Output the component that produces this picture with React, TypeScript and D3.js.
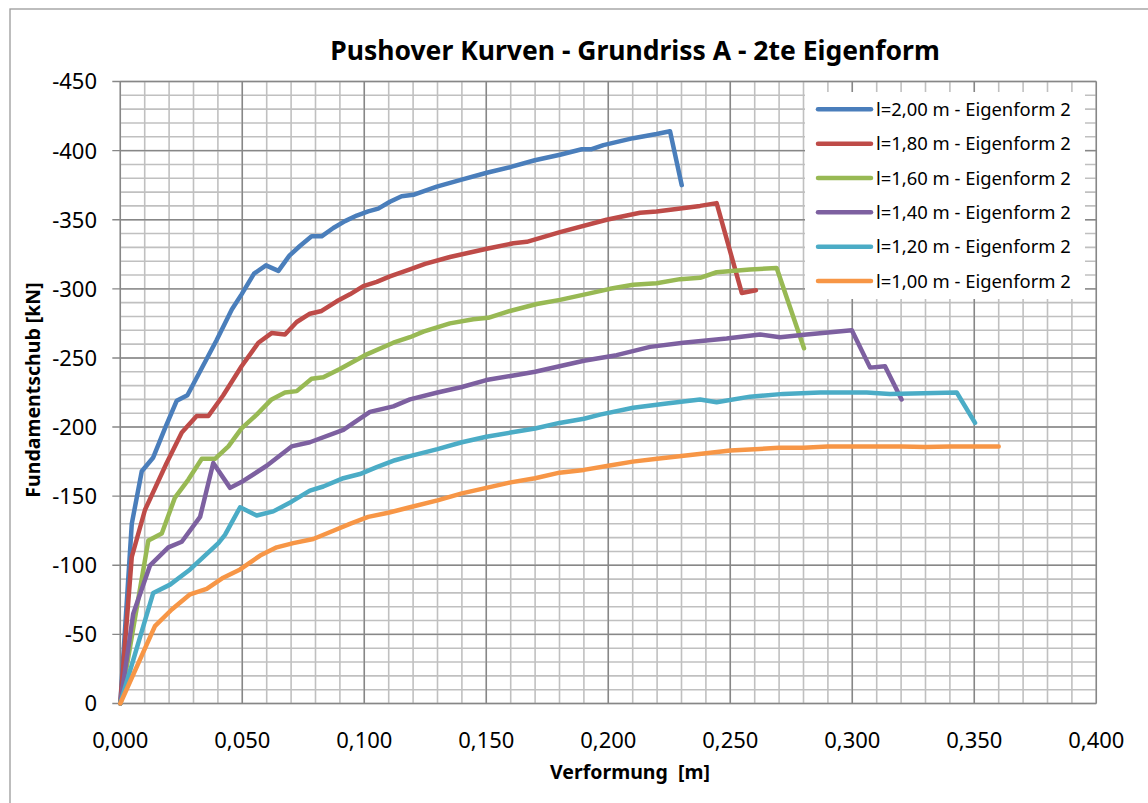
import React from "react";
import * as d3 from "d3";

// Pushover curves: base shear [kN] (negative) over deformation [m]
type Pt = [number, number];

const seriesLabels = [
  "l=2,00 m - Eigenform 2",
  "l=1,80 m - Eigenform 2",
  "l=1,60 m - Eigenform 2",
  "l=1,40 m - Eigenform 2",
  "l=1,20 m - Eigenform 2",
  "l=1,00 m - Eigenform 2",
];

const seriesColors = ["#4a7ebb", "#be4b48", "#98b954", "#7d60a0", "#4bacc6", "#f79646"];

const curveL200: Pt[] = [
  [0, 0], [0.0047, -130], [0.0088, -168], [0.0135, -178], [0.0183, -199], [0.0231, -219],
  [0.0275, -223], [0.0395, -263], [0.0457, -285], [0.0497, -296], [0.0548, -311], [0.0597, -317],
  [0.0648, -313], [0.0693, -324], [0.0736, -331], [0.0784, -338], [0.0825, -338], [0.0873, -344],
  [0.0921, -349], [0.0969, -353], [0.1016, -356], [0.1057, -358], [0.1105, -363], [0.1153, -367],
  [0.1201, -368], [0.1297, -374], [0.1399, -379], [0.1502, -384], [0.1597, -388], [0.1699, -393],
  [0.1802, -397], [0.1891, -401], [0.1932, -401], [0.198, -404], [0.2102, -409], [0.2198, -412],
  [0.2253, -414], [0.2301, -375],
];

const curveL180: Pt[] = [
  [0, 0], [0.0047, -106], [0.0101, -140], [0.019, -174], [0.0252, -196], [0.0313, -208],
  [0.0361, -208], [0.0422, -223], [0.0497, -244], [0.0566, -261], [0.062, -268], [0.0675, -267],
  [0.0723, -276], [0.0777, -282], [0.0825, -284], [0.0887, -291], [0.0941, -296], [0.0996, -302],
  [0.1051, -305], [0.1105, -309], [0.1187, -314], [0.1249, -318], [0.1351, -323], [0.1502, -329],
  [0.1611, -333], [0.1666, -334], [0.1802, -341], [0.1993, -350], [0.213, -355], [0.2198, -356],
  [0.2376, -360], [0.2444, -362], [0.2547, -297], [0.2605, -299],
];

const curveL160: Pt[] = [
  [0, 0], [0.0115, -118], [0.017, -123], [0.0224, -149], [0.0279, -162], [0.0334, -177],
  [0.0388, -177], [0.0443, -186], [0.0497, -199], [0.0559, -209], [0.062, -220], [0.0675, -225],
  [0.0723, -226], [0.0784, -235], [0.0832, -236], [0.09, -242], [0.1003, -252], [0.1119, -261],
  [0.1187, -265], [0.1242, -269], [0.1351, -275], [0.1447, -278], [0.1508, -279], [0.1597, -284],
  [0.1707, -289], [0.1802, -292], [0.1905, -296], [0.2007, -300], [0.2102, -303], [0.2198, -304],
  [0.2294, -307], [0.2376, -308], [0.2444, -312], [0.2581, -314], [0.269, -315], [0.2802, -257],
];

const curveL140: Pt[] = [
  [0, 0], [0.0053, -65], [0.0122, -100], [0.0197, -113], [0.0252, -117], [0.0327, -135],
  [0.0381, -174], [0.045, -156], [0.0504, -161], [0.06, -172], [0.0702, -186], [0.0777, -189],
  [0.0914, -198], [0.1023, -211], [0.1119, -215], [0.1187, -220], [0.13, -225], [0.14, -229],
  [0.15, -234], [0.16, -237], [0.17, -240], [0.18, -244], [0.19, -248], [0.1966, -250],
  [0.2034, -252], [0.2171, -258], [0.2307, -261], [0.2485, -264], [0.2622, -267], [0.2704, -265],
  [0.2813, -267], [0.2998, -270], [0.3073, -243], [0.3134, -244], [0.3202, -220],
];

const curveL120: Pt[] = [
  [0, 0], [0.0135, -80], [0.0204, -86], [0.0286, -97], [0.0402, -116], [0.0429, -122],
  [0.0491, -142], [0.0559, -136], [0.0627, -139], [0.0702, -146], [0.0777, -154], [0.0832, -157],
  [0.0914, -163], [0.0982, -166], [0.1051, -171], [0.1126, -176], [0.1187, -179], [0.13, -184],
  [0.14, -189], [0.15, -193], [0.16, -196], [0.17, -199], [0.18, -203], [0.19, -206],
  [0.1966, -209], [0.2102, -214], [0.2239, -217], [0.2376, -220], [0.2444, -218], [0.2581, -222],
  [0.2717, -224], [0.2868, -225], [0.3059, -225], [0.3154, -224], [0.3428, -225], [0.3503, -203],
];

const curveL100: Pt[] = [
  [0, 0], [0.0142, -56], [0.0211, -68], [0.0286, -79], [0.0354, -83], [0.0422, -91],
  [0.0491, -97], [0.0573, -107], [0.0641, -113], [0.0709, -116], [0.0791, -119], [0.0873, -125],
  [0.0941, -130], [0.1016, -135], [0.1098, -138], [0.1187, -142], [0.13, -147], [0.14, -152],
  [0.15, -156], [0.16, -160], [0.17, -163], [0.18, -167], [0.19, -169], [0.2, -172],
  [0.21, -175], [0.22, -177], [0.23, -179], [0.24, -181], [0.25, -183], [0.26, -184],
  [0.27, -185], [0.28, -185], [0.29, -186], [0.3, -186], [0.31, -186], [0.32, -186],
  [0.33, -185.5], [0.34, -186], [0.35, -186], [0.36, -186],
];

const allCurves = [curveL200, curveL180, curveL160, curveL140, curveL120, curveL100];

const xTicks = [0, 0.05, 0.1, 0.15, 0.2, 0.25, 0.3, 0.35, 0.4];
const yTicks = [0, -50, -100, -150, -200, -250, -300, -350, -400, -450];

const W = 1148;
const H = 803;
const plot = { left: 120.3, right: 1096.3, top: 81.5, bottom: 703.5 };
const FONT = "'Noto Sans', 'Open Sans', sans-serif";

export default function App() {
  const x = d3.scaleLinear().domain([0, 0.4]).range([plot.left, plot.right]);
  const y = d3.scaleLinear().domain([0, -450]).range([plot.bottom, plot.top]);

  const line = d3
    .line<Pt>()
    .x((d) => x(d[0]))
    .y((d) => y(d[1]));

  const minorX = d3.range(0, 41).map((i) => i / 100);
  const minorY = d3.range(0, 46).map((i) => -i * 10);
  const fmtX = (v: number) => v.toFixed(3).replace(".", ",");

  const legend = { x: 805, y: 92, w: 280, h: 207, row0: 109.3, rowStep: 34.35 };

  return (
    <svg
      width={W}
      height={H}
      style={{ position: "absolute", left: 0, top: 0, background: "#fff" }}
      fontFamily={FONT}
    >
      <rect x={0} y={0} width={W} height={H} fill="#fff" />
      <rect x={10} y={9} width={W + 20} height={H + 20} fill="none" stroke="#9a9a9a" strokeWidth={1.3} />

      <text x={635} y={60} textAnchor="middle" fontSize={26.5} fontWeight="bold" fill="#000">
        Pushover Kurven - Grundriss A - 2te Eigenform
      </text>

      {/* minor grid */}
      <g stroke="#c0c0c0" strokeWidth={1.6}>
        {minorX.map((v, i) => (
          <line key={"mx" + i} x1={x(v)} x2={x(v)} y1={plot.top} y2={plot.bottom} />
        ))}
        {minorY.map((v, i) => (
          <line key={"my" + i} x1={plot.left} x2={plot.right} y1={y(v)} y2={y(v)} />
        ))}
      </g>
      {/* major grid */}
      <g stroke="#878787" strokeWidth={1.4}>
        {xTicks.map((v, i) => (
          <line key={"Mx" + i} x1={x(v)} x2={x(v)} y1={plot.top} y2={plot.bottom} />
        ))}
        {yTicks.map((v, i) => (
          <line key={"My" + i} x1={plot.left - 8} x2={plot.right} y1={y(v)} y2={y(v)} />
        ))}
      </g>

      {/* curves */}
      <g fill="none" strokeWidth={4.5} strokeLinejoin="round" strokeLinecap="round">
        {allCurves.map((c, i) => (
          <path key={"c" + i} d={line(c) ?? ""} stroke={seriesColors[i]} />
        ))}
      </g>

      {/* y tick labels */}
      <g fontSize={22} fill="#000" textAnchor="end">
        {yTicks.map((v, i) => (
          <text key={"yl" + i} x={97} y={y(v)} dy="0.36em">
            {String(v)}
          </text>
        ))}
      </g>
      {/* x tick labels */}
      <g fontSize={22} fill="#000" textAnchor="middle">
        {xTicks.map((v, i) => (
          <text key={"xl" + i} x={x(v)} y={740} dy="0.36em">
            {fmtX(v)}
          </text>
        ))}
      </g>

      <text x={630} y={779} textAnchor="middle" fontSize={19.5} fontWeight="bold" fill="#000" xmlSpace="preserve">
        Verformung  [m]
      </text>
      <text
        transform={`translate(40, ${390}) rotate(-90)`}
        textAnchor="middle"
        fontSize={19.5}
        fontWeight="bold"
        fill="#000"
      >
        Fundamentschub [kN]
      </text>

      {/* legend */}
      <rect x={legend.x} y={legend.y} width={legend.w} height={legend.h} fill="#fff" />
      {seriesLabels.map((s, i) => {
        const cy = legend.row0 + i * legend.rowStep;
        return (
          <g key={"lg" + i}>
            <line x1={818} x2={871} y1={cy} y2={cy} stroke={seriesColors[i]} strokeWidth={4.5} strokeLinecap="round" />
            <text x={876} y={cy} dy="0.36em" fontSize={18.4} fill="#000">
              {s}
            </text>
          </g>
        );
      })}
    </svg>
  );
}
